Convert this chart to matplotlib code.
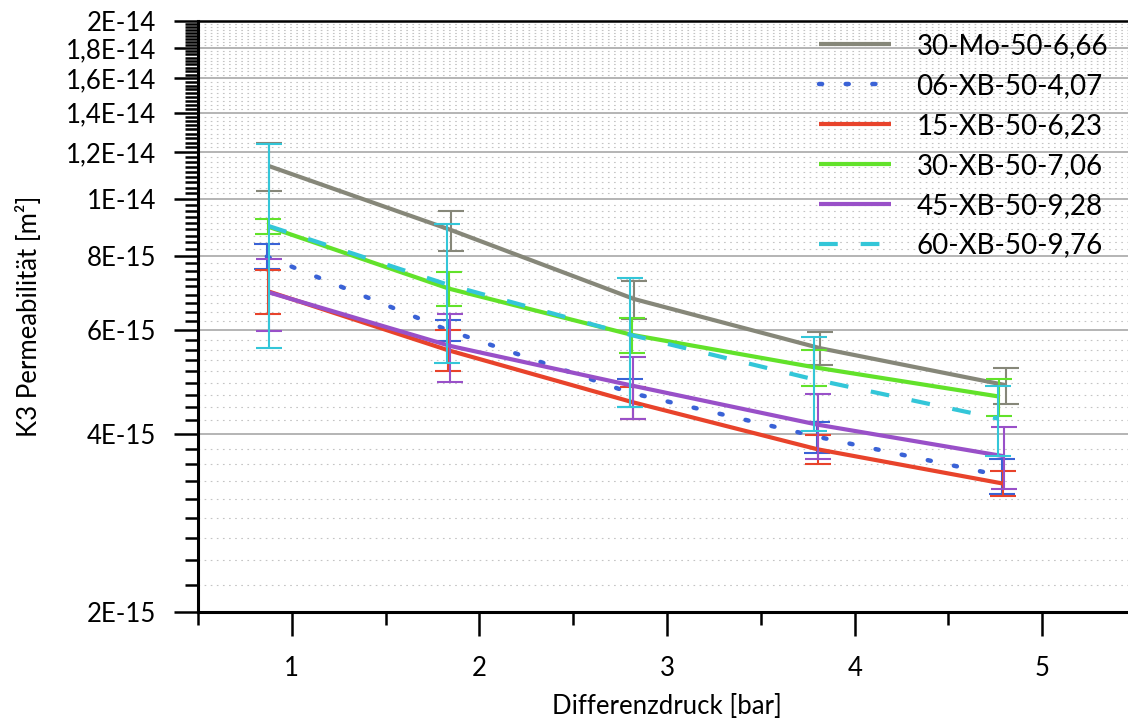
import matplotlib
matplotlib.use("Agg")
import matplotlib.pyplot as plt
from matplotlib.ticker import FixedLocator, FixedFormatter, NullFormatter

plt.rcParams['font.family'] = ['Lato', 'DejaVu Sans']

# Differential pressure [bar] per sample series
x_mo30 = [0.877, 1.848, 2.825, 3.816, 4.806]
x_xb06 = [0.867, 1.830, 2.803, 3.799, 4.783]
x_xb15 = [0.872, 1.830, 2.816, 3.802, 4.788]
x_xb30 = [0.872, 1.838, 2.811, 3.784, 4.770]
x_xb45 = [0.877, 1.844, 2.816, 3.802, 4.794]
x_xb60 = [0.876, 1.826, 2.803, 3.784, 4.762]

# K3 permeability [m²] (mean values)
k_mo30 = [11.37e-15, 8.86e-15, 6.77e-15, 5.59e-15, 4.84e-15]
k_xb06 = [7.99e-15, 6.00e-15, 4.70e-15, 3.96e-15, 3.40e-15]
k_xb15 = [6.98e-15, 5.55e-15, 4.53e-15, 3.77e-15, 3.30e-15]
k_xb30 = [8.98e-15, 7.05e-15, 5.89e-15, 5.19e-15, 4.63e-15]
k_xb45 = [6.95e-15, 5.64e-15, 4.83e-15, 4.15e-15, 3.67e-15]
k_xb60 = [9.00e-15, 7.17e-15, 5.89e-15, 4.95e-15, 4.25e-15]

# Standard deviations [m²]
s_mo30 = [1.06e-15, 0.69e-15, 0.50e-15, 0.36e-15, 0.34e-15]
s_xb06 = [0.39e-15, 0.24e-15, 0.26e-15, 0.24e-15, 0.23e-15]
s_xb15 = [0.60e-15, 0.44e-15, 0.28e-15, 0.21e-15, 0.16e-15]
s_xb30 = [0.27e-15, 0.46e-15, 0.41e-15, 0.36e-15, 0.33e-15]
s_xb45 = [0.97e-15, 0.74e-15, 0.58e-15, 0.52e-15, 0.44e-15]
s_xb60 = [3.41e-15, 1.89e-15, 1.45e-15, 0.90e-15, 0.58e-15]

labels = ["30-Mo-50-6,66", "06-XB-50-4,07", "15-XB-50-6,23",
          "30-XB-50-7,06", "45-XB-50-9,28", "60-XB-50-9,76"]
colors = ["#868779", "#3a62d6", "#e8432b", "#62e22a", "#9950c8", "#33c6d8"]
styles = ["-", (0, (0.7, 5.3)), "-", "-", "-", (0, (4.5, 5.5))]

xs = [x_mo30, x_xb06, x_xb15, x_xb30, x_xb45, x_xb60]
ks = [k_mo30, k_xb06, k_xb15, k_xb30, k_xb45, k_xb60]
ss = [s_mo30, s_xb06, s_xb15, s_xb30, s_xb45, s_xb60]

y_major = [2e-15, 4e-15, 6e-15, 8e-15, 10e-15, 12e-15, 14e-15, 16e-15, 18e-15, 20e-15]
y_major_labels = ["2E-15", "4E-15", "6E-15", "8E-15", "1E-14",
                  "1,2E-14", "1,4E-14", "1,6E-14", "1,8E-14", "2E-14"]
x_major = [1, 2, 3, 4, 5]
x_minor = [0.5, 1.5, 2.5, 3.5, 4.5, 5.5]

fig = plt.figure(figsize=(11.28, 7.2), dpi=100)
ax = fig.add_axes([0.1755, 0.15, 0.8317, 0.8208])

ax.set_yscale("log")
ax.set_xlim(0.5, 5.5)
ax.set_ylim(2e-15, 2e-14)

# minor ticks split every major interval into nine parts
y_minor = []
for lo, hi in zip(y_major[:-1], y_major[1:]):
    step = (hi - lo) / 9
    y_minor += [lo + i * step for i in range(1, 9)]

ax.yaxis.set_major_locator(FixedLocator(y_major))
ax.yaxis.set_major_formatter(FixedFormatter(y_major_labels))
ax.yaxis.set_minor_locator(FixedLocator(y_minor))
ax.yaxis.set_minor_formatter(NullFormatter())
ax.xaxis.set_major_locator(FixedLocator(x_major))
ax.xaxis.set_minor_locator(FixedLocator(x_minor))

ax.grid(True, which="major", axis="y", color="#a8a8a8", lw=1.2, zorder=0)
ax.grid(True, which="minor", axis="y", color="#c4c4c4", lw=0.8,
        linestyle=(0, (1.5, 4)), zorder=0)
ax.set_axisbelow(True)

for i, (x, k, s, c, ls, lab) in enumerate(zip(xs, ks, ss, colors, styles, labels)):
    ax.errorbar(x, k, yerr=s, fmt="none", ecolor=c, elinewidth=1.5,
                capsize=9.5, capthick=1.5, zorder=3 + 2 * i)
    ax.plot(x, k, color=c, lw=3.2 if i == 1 else 3, linestyle=ls, label=lab,
            dash_capstyle="round" if i == 1 else "butt",
            solid_capstyle="butt", zorder=4 + 2 * i)

for side in ["left", "bottom", "top"]:
    ax.spines[side].set_color("black")
ax.spines["left"].set_linewidth(2.2)
ax.spines["bottom"].set_linewidth(2.2)
ax.spines["top"].set_linewidth(1.8)
ax.spines["right"].set_visible(False)

ax.tick_params(axis="both", which="major", direction="out", length=17,
               width=1.8, color="black", labelsize=18.5)
ax.tick_params(axis="both", which="minor", direction="out", length=9.5,
               width=1.8, color="black")
ax.tick_params(axis="y", which="major", pad=13)
ax.tick_params(axis="x", which="major", pad=15)

ax.set_xlabel("Differenzdruck [bar]", fontsize=18.5, labelpad=9)
ax.set_ylabel("K3 Permeabilität [m²]", fontsize=18.5, labelpad=17)

leg = ax.legend(loc="upper right", bbox_to_anchor=(1108 / 1128, 1 - 33 / 720),
                bbox_transform=fig.transFigure, frameon=False, fontsize=20,
                handlelength=2.6, handletextpad=0.9, labelspacing=0.5,
                borderpad=0.0, borderaxespad=0.0)

fig.savefig("out.png", dpi=100, facecolor="white")
